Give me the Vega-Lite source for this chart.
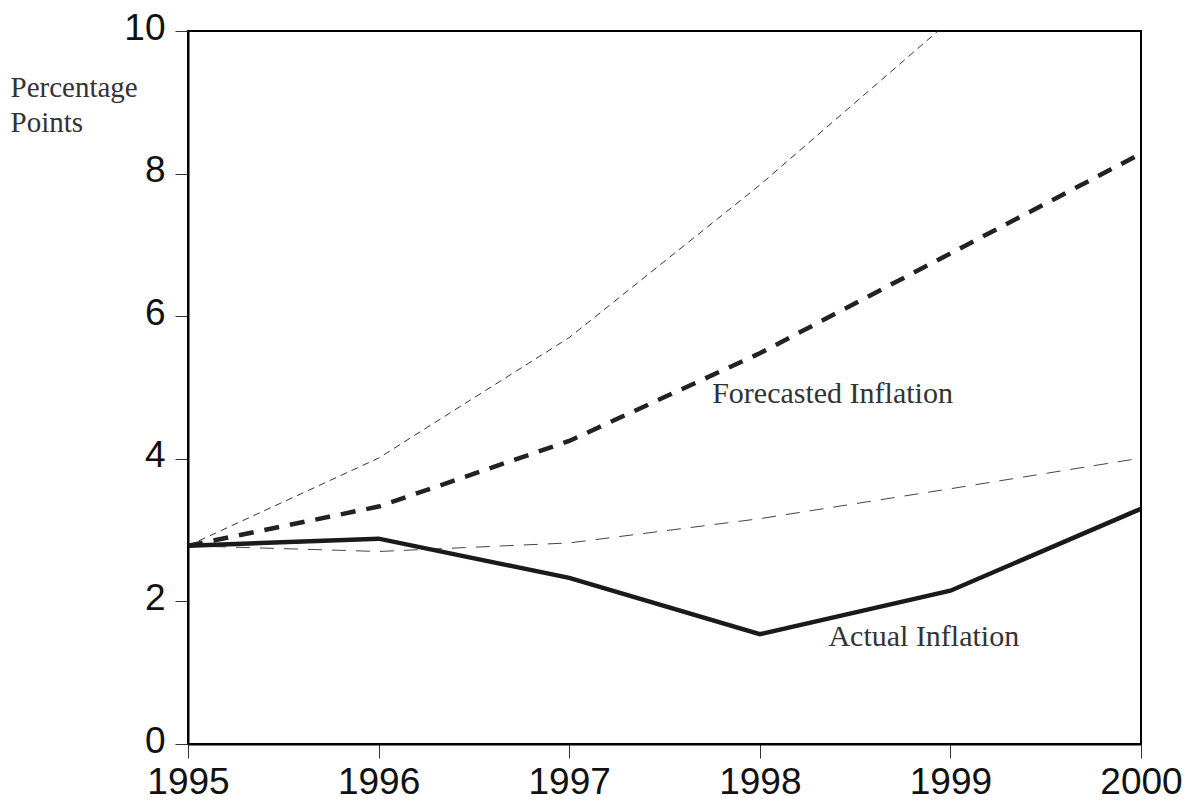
{
  "$schema": "https://vega.github.io/schema/vega-lite/v6.json",
  "autosize": "none",
  "width": 953,
  "height": 713,
  "padding": {"left": 188, "top": 31, "right": 50, "bottom": 65},
  "background": "white",
  "config": {
    "view": {"stroke": "#000", "strokeWidth": 2},
    "axis": {"grid": false}
  },
  "datasets": {
    "series": [
      {"year": 1995, "series": "Actual", "value": 2.78},
      {"year": 1996, "series": "Actual", "value": 2.88},
      {"year": 1997, "series": "Actual", "value": 2.33},
      {"year": 1998, "series": "Actual", "value": 1.54},
      {"year": 1999, "series": "Actual", "value": 2.15},
      {"year": 2000, "series": "Actual", "value": 3.30},
      {"year": 1995, "series": "Forecast", "value": 2.78},
      {"year": 1996, "series": "Forecast", "value": 3.33},
      {"year": 1997, "series": "Forecast", "value": 4.25},
      {"year": 1998, "series": "Forecast", "value": 5.48},
      {"year": 1999, "series": "Forecast", "value": 6.88},
      {"year": 2000, "series": "Forecast", "value": 8.28},
      {"year": 1995, "series": "Upper", "value": 2.78},
      {"year": 1996, "series": "Upper", "value": 4.01},
      {"year": 1997, "series": "Upper", "value": 5.70},
      {"year": 1998, "series": "Upper", "value": 7.84},
      {"year": 1999, "series": "Upper", "value": 10.15},
      {"year": 2000, "series": "Upper", "value": 12.6},
      {"year": 1995, "series": "Lower", "value": 2.78},
      {"year": 1996, "series": "Lower", "value": 2.70},
      {"year": 1997, "series": "Lower", "value": 2.82},
      {"year": 1998, "series": "Lower", "value": 3.16},
      {"year": 1999, "series": "Lower", "value": 3.58},
      {"year": 2000, "series": "Lower", "value": 4.01}
    ],
    "one": [{"n": 1}]
  },
  "layer": [
    {
      "data": {"name": "series"},
      "transform": [{"filter": "datum.series === 'Upper'"}],
      "mark": {"type": "line", "clip": true, "color": "#333", "strokeWidth": 1, "strokeDash": [7, 5]},
      "encoding": {
        "x": {
          "field": "year",
          "type": "quantitative",
          "scale": {"domain": [1995, 2000], "nice": false, "zero": false},
          "axis": {
            "title": null,
            "values": [1995, 1996, 1997, 1998, 1999, 2000],
            "format": "d",
            "labelFont": "Liberation Sans",
            "labelFontSize": 37,
            "labelColor": "#111",
            "labelPadding": 6,
            "labelFlush": false,
            "labelOverlap": false,
            "labelBound": false,
            "tickSize": 14,
            "tickColor": "#333",
            "tickWidth": 1,
            "domainColor": "#000",
            "domainWidth": 2
          }
        },
        "y": {
          "field": "value",
          "type": "quantitative",
          "scale": {"domain": [0, 10], "nice": false},
          "axis": {
            "title": ["Percentage", "Points"],
            "titleAngle": 0,
            "titleAlign": "left",
            "titleBaseline": "alphabetic",
            "titleX": -178,
            "titleY": 65,
            "titleFont": "Liberation Serif",
            "titleFontSize": 29,
            "titleFontWeight": "normal",
            "titleColor": "#333",
            "titleLineHeight": 35,
            "values": [0, 2, 4, 6, 8, 10],
            "format": "d",
            "labelFont": "Liberation Sans",
            "labelFontSize": 37,
            "labelColor": "#111",
            "labelPadding": 10,
            "labelOffset": -3,
            "labelBound": false,
            "labelFlush": false,
            "tickSize": 13,
            "tickColor": "#333",
            "tickWidth": 1,
            "domainColor": "#000",
            "domainWidth": 2
          }
        }
      }
    },
    {
      "data": {"name": "series"},
      "transform": [{"filter": "datum.series === 'Lower'"}],
      "mark": {"type": "line", "clip": true, "color": "#444", "strokeWidth": 1, "strokeDash": [14, 10]},
      "encoding": {"x": {"field": "year", "type": "quantitative"}, "y": {"field": "value", "type": "quantitative"}}
    },
    {
      "data": {"name": "series"},
      "transform": [{"filter": "datum.series === 'Forecast'"}],
      "mark": {"type": "line", "clip": true, "color": "#222", "strokeWidth": 4.5, "strokeDash": [15, 11]},
      "encoding": {"x": {"field": "year", "type": "quantitative"}, "y": {"field": "value", "type": "quantitative"}}
    },
    {
      "data": {"name": "series"},
      "transform": [{"filter": "datum.series === 'Actual'"}],
      "mark": {"type": "line", "clip": true, "color": "#1a1a1a", "strokeWidth": 4.5},
      "encoding": {"x": {"field": "year", "type": "quantitative"}, "y": {"field": "value", "type": "quantitative"}}
    },
    {
      "data": {"name": "one"},
      "mark": {"type": "text", "text": "Forecasted Inflation", "font": "Liberation Serif", "fontSize": 30, "align": "left", "baseline": "alphabetic", "color": "#333"},
      "encoding": {"x": {"datum": 1997.75, "type": "quantitative"}, "y": {"datum": 4.78, "type": "quantitative"}}
    },
    {
      "data": {"name": "one"},
      "mark": {"type": "text", "text": "Actual Inflation", "font": "Liberation Serif", "fontSize": 30, "align": "left", "baseline": "alphabetic", "color": "#333"},
      "encoding": {"x": {"datum": 1998.36, "type": "quantitative"}, "y": {"datum": 1.38, "type": "quantitative"}}
    }
  ]
}
